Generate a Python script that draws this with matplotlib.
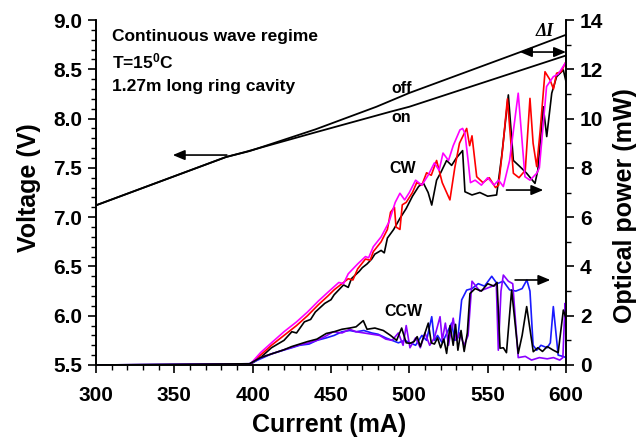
import matplotlib

matplotlib.use("Agg")
import matplotlib.pyplot as plt
from matplotlib.ticker import MultipleLocator

plt.rcParams["font.family"] = ["Liberation Sans", "DejaVu Sans"]
plt.rcParams["font.weight"] = "bold"
plt.rcParams["mathtext.fontset"] = "custom"
plt.rcParams["mathtext.rm"] = "Liberation Sans:bold"
plt.rcParams["mathtext.it"] = "Liberation Sans:bold"
plt.rcParams["mathtext.bf"] = "Liberation Sans:bold"

# voltage (left axis)
v_off_i = [300, 383, 398, 440, 479, 500, 570, 600]
v_off = [7.12, 7.61, 7.67, 7.89, 8.12, 8.26, 8.67, 8.85]
v_on_i = [300, 383, 395, 440, 488, 500, 550, 600]
v_on = [7.12, 7.61, 7.66, 7.86, 8.07, 8.12, 8.38, 8.64]

# CW optical power (right axis)
cw_black_i = [300, 398, 405, 412, 420, 425, 428, 433, 437, 440, 446, 450, 452, 458,
              461, 463, 468, 470, 473, 476, 478, 482, 484, 486, 490, 494, 498, 502,
              506, 509, 512, 514.3, 517.4, 520, 523.8, 527, 530, 534, 535.5, 540,
              545, 550, 555.7, 559, 563.2, 566.4, 570.6, 574.9, 580.2, 582, 585.5,
              587.7, 590.9, 594, 598.3, 600]
cw_black = [0, 0, 0.3, 0.7, 1.0, 1.35, 1.3, 1.75, 1.85, 2.15, 2.5, 2.65, 2.85, 3.25,
            3.15, 3.5, 3.8, 3.95, 4.1, 4.3, 4.5, 4.65, 4.55, 5.15, 5.5, 5.95, 6.35,
            6.85, 7.25, 7.38, 7.0, 6.49, 7.5, 7.8, 8.3, 8.1, 8.4, 8.7, 7.03, 6.9,
            7.0, 6.85, 6.9, 8.5, 10.96, 8.3, 8.05, 7.78, 7.37, 7.9, 10.48, 9.27,
            11.03, 11.7, 11.97, 11.5]

cw_red_i = [300, 398, 405, 412, 420, 428, 435, 442, 448, 452, 455, 461, 464, 467,
            472, 475, 477, 482, 486, 488, 490.5, 491.5, 494, 495.5, 498, 502, 504.7,
            508, 511, 514, 517.4, 521, 525.9, 529, 532, 536.6, 538.5, 540, 543, 547,
            551, 555, 557, 559.6, 562.6, 566.4, 570, 574, 577, 579, 581.3, 583.5,
            586.6, 589.8, 592, 594, 597, 599.4]
cw_red = [0, 0, 0.4, 0.8, 1.2, 1.6, 2.0, 2.45, 2.8, 3.05, 3.2, 3.5, 3.45, 3.9,
          4.3, 4.25, 4.6, 5.0, 5.5, 6.2, 6.4, 5.6, 5.5, 6.5, 6.6, 7.0, 7.4,
          7.3, 7.8, 7.7, 8.3, 7.4, 6.7, 8.0, 9.0, 9.6, 8.9, 9.3, 7.64, 7.4,
          7.6, 7.2, 7.3, 8.8, 10.8, 7.78, 7.6, 7.9, 10.82, 9.0, 8.05, 9.5,
          11.9, 11.57, 11.2, 11.84, 11.9, 12.24]

cw_mag_i = [300, 398, 405, 412, 420, 428, 435, 442, 448, 455, 458, 461, 467, 472,
            474, 477, 482, 487, 491, 494, 497, 500, 504, 508, 512, 516, 519, 521.5,
            525, 528, 532.3, 534, 535.5, 537.5, 539, 542, 546, 550, 554, 557, 560,
            564, 569.5, 573.8, 577, 581.3, 583, 587.6, 591.9, 595, 599.4]
cw_mag = [0, 0, 0.5, 0.9, 1.35, 1.75, 2.15, 2.6, 2.95, 3.35, 3.3, 3.7, 4.1, 4.4,
          4.35, 4.8, 5.2, 5.8, 6.6, 6.97, 6.7, 7.0, 7.5, 7.3, 7.7, 8.2, 7.9, 8.6,
          8.3, 8.9, 9.54, 9.6, 9.4, 8.3, 7.4, 7.5, 7.3, 7.6, 7.3, 7.5, 7.24,
          8.3, 11.03, 7.64, 7.5, 7.78, 8.0, 11.3, 11.7, 11.8, 12.24]

# CCW optical power (right axis)
ccw_blue_i = [300, 398, 405, 412, 419.6, 425, 430, 436, 441, 447, 452, 457, 462, 466,
              471, 476, 480, 485, 489, 493, 497, 500.4, 504, 508, 511, 514.3, 516,
              518, 521, 524, 527, 529, 531, 533.4, 536.6, 540, 544, 548, 552.6, 556,
              560, 564, 568, 572, 575, 577, 579, 581.3, 584, 588, 590, 591.9, 595,
              598, 600]
ccw_blue = [0, 0.05, 0.25, 0.45, 0.6, 0.7, 0.8, 0.85, 1.0, 1.1, 1.2, 1.35, 1.4, 1.35,
            1.4, 1.3, 1.25, 1.1, 1.0, 0.9, 1.0, 0.9, 0.8, 1.2, 1.0, 1.96, 1.0,
            1.2, 0.9, 1.3, 1.7, 1.0, 1.1, 2.64, 3.04, 3.1, 3.3, 3.2, 3.6, 3.3,
            3.4, 3.05, 3.0, 3.1, 3.45, 3.0, 0.8, 0.6, 0.8, 0.7, 0.9, 2.37, 0.4,
            0.35, 0.3]

ccw_purple_i = [300, 398, 405, 412, 419.6, 425, 430, 436, 441, 446, 451.5, 457, 462,
                466, 471, 476, 481, 485, 489, 493, 496, 498, 500.4, 504, 507, 510,
                513, 516, 519.6, 521, 523, 525, 528, 530, 532, 535, 537.5, 540, 545,
                549, 553, 555.5, 556.8, 558.5, 560, 563.2, 566, 569.5, 574, 578, 583,
                588, 592, 596, 598, 599.4, 600]
ccw_purple = [0, 0.05, 0.3, 0.45, 0.61, 0.72, 0.82, 0.9, 1.0, 1.15, 1.35, 1.3, 1.45,
              1.35, 1.3, 1.25, 1.2, 1.05, 1.0, 1.3, 0.8, 1.6, 0.7, 1.1, 0.7, 1.3,
              0.8, 1.1, 1.96, 1.0, 1.7, 0.8, 1.9, 1.0, 1.3, 0.8, 1.2, 3.4, 3.0,
              3.1, 3.2, 3.3, 0.6, 3.0, 3.65, 3.4, 3.3, 0.3, 0.35, 0.2, 0.3,
              0.25, 0.3, 0.2, 0.3, 2.5, 2.1]

ccw_black_i = [300, 398, 405, 412, 419.6, 425, 430, 435, 441, 447, 452, 457, 462, 466,
               470.6, 473, 478, 483.4, 488, 491.9, 495.1, 498, 500.4, 503, 505, 507,
               510, 512.1, 514, 516, 518, 520, 522, 523.8, 526, 528, 529.5, 531, 533,
               535, 537, 538.7, 542, 546, 550, 554, 556, 557.9, 560, 562, 565.3,
               569.5, 572, 574.9, 579.1, 582, 585, 588, 591.9, 595, 598.3, 600]
ccw_black = [0, 0.05, 0.3, 0.45, 0.61, 0.75, 0.85, 0.95, 1.05, 1.28, 1.35, 1.45, 1.5,
             1.55, 1.8, 1.45, 1.5, 1.4, 1.2, 1.0, 1.5, 0.9, 0.88, 0.95, 1.15, 0.75,
             1.3, 1.7, 0.9, 0.85, 1.1, 0.7, 1.05, 0.47, 1.6, 0.8, 1.65, 0.6, 1.4,
             0.55, 1.3, 2.9, 3.1, 3.0, 3.3, 3.2, 3.35, 0.68, 0.7, 0.5, 3.04,
             0.47, 1.2, 2.37, 0.54, 0.7, 0.55, 0.75, 0.6, 0.5, 2.23, 1.9]

BLUE = "#1a1aff"
PURPLE = "#8a00ff"
LW = 1.2

fig = plt.figure(figsize=(6.41, 4.46), dpi=100)
ax = fig.add_axes([96 / 641, 81 / 446, 470 / 641, 345 / 446])
ax2 = ax.twinx()

ax.plot(v_off_i, v_off, color="black", lw=1.3)
ax.plot(v_on_i, v_on, color="black", lw=1.3)

ax2.plot(cw_black_i, cw_black, color="black", lw=LW)
ax2.plot(cw_red_i, cw_red, color="#ff0000", lw=LW)
ax2.plot(cw_mag_i, cw_mag, color="#ff00ff", lw=LW)
ax2.plot(ccw_blue_i, ccw_blue, color=BLUE, lw=LW)
ax2.plot(ccw_purple_i, ccw_purple, color=PURPLE, lw=LW)
ax2.plot(ccw_black_i, ccw_black, color="black", lw=LW)

ax.set_xlim(300, 600)
ax.set_ylim(5.5, 9.0)
ax2.set_ylim(0, 14)

for a in (ax, ax2):
    a.spines["top"].set_visible(False)
    for s in a.spines.values():
        s.set_linewidth(1.2)
    a.tick_params(which="major", direction="out", length=6, width=1.2, labelsize=15)
    a.tick_params(which="minor", direction="out", length=3.5, width=1.0)

ax.xaxis.set_major_locator(MultipleLocator(50))
ax.xaxis.set_minor_locator(MultipleLocator(10))
ax.yaxis.set_major_locator(MultipleLocator(0.5))
ax.yaxis.set_minor_locator(MultipleLocator(0.1))
ax.yaxis.set_major_formatter(matplotlib.ticker.FormatStrFormatter("%.1f"))
ax2.yaxis.set_major_locator(MultipleLocator(2))
ax2.yaxis.set_minor_locator(MultipleLocator(1))
ax.tick_params(axis="x", pad=9)
ax.tick_params(axis="y", pad=4)
ax2.tick_params(axis="y", pad=4)

ax.set_xlabel("Current (mA)", fontsize=18, fontweight="bold", va="center")
ax.xaxis.set_label_coords(0.497, -0.174)
ax.set_ylabel("Voltage (V)", fontsize=18, fontweight="bold", va="center")
ax.yaxis.set_label_coords(-0.143, 0.514)
ax2.set_ylabel("Optical power (mW)", fontsize=18, fontweight="bold", va="center")
ax2.yaxis.set_label_coords(1.126, 0.461)

ax.text(0.033, 0.952, "Continuous wave regime", transform=ax.transAxes,
        fontsize=12.5, va="center", ha="left")
ax.text(0.033, 0.880, "T=15$^{0}$C", transform=ax.transAxes,
        fontsize=12.5, va="center", ha="left")
ax.text(0.033, 0.807, "1.27m long ring cavity", transform=ax.transAxes,
        fontsize=12.5, va="center", ha="left")

ax.text(495, 8.31, "off", fontsize=11.5, ha="center", va="center")
ax.text(495, 8.01, "on", fontsize=11.5, ha="center", va="center")
ax2.text(495.6, 7.98, "CW", fontsize=11.5, ha="center", va="center")
ax2.text(496.2, 2.16, "CCW", fontsize=11.5, ha="center", va="center")
ax.text(586.5, 8.88, "ΔI", fontsize=13, ha="center", va="center",
        family="Liberation Serif", style="italic", fontweight="bold")

arrow = dict(arrowstyle="-|>,head_length=0.6,head_width=0.25", color="black",
             lw=1.2, mutation_scale=12, shrinkA=0, shrinkB=0)
ax.annotate("", xy=(349, 7.63), xytext=(383.5, 7.63), arrowprops=arrow)
ax2.annotate("", xy=(585.5, 7.1), xytext=(562, 7.1), arrowprops=arrow)
ax2.annotate("", xy=(590, 3.45), xytext=(567.5, 3.45), arrowprops=arrow)
ax.annotate("", xy=(600, 8.675), xytext=(570.6, 8.675),
            arrowprops=dict(arrowstyle="<|-|>,head_length=0.6,head_width=0.25",
                            color="black", lw=1.2, mutation_scale=12,
                            shrinkA=0, shrinkB=0))

fig.savefig("out.png", dpi=100)
